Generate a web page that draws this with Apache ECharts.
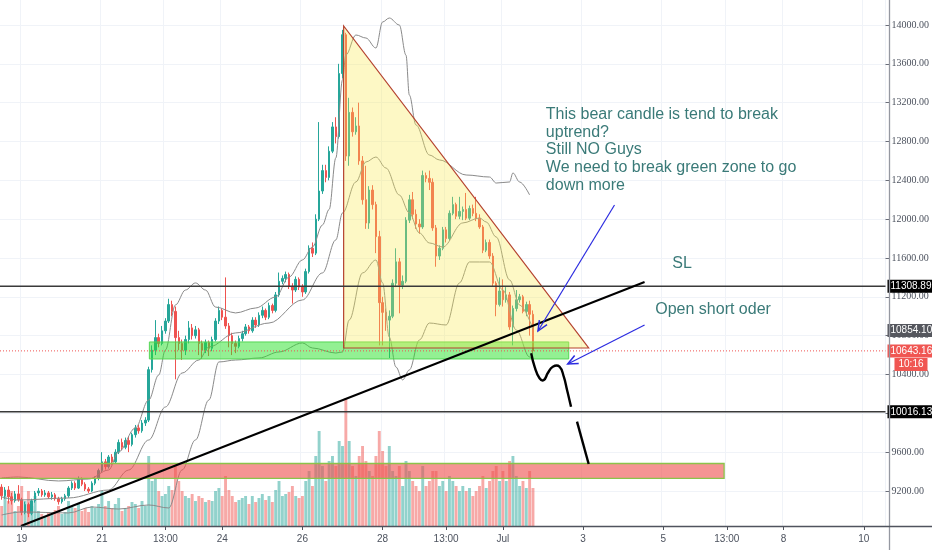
<!DOCTYPE html>
<html><head><meta charset="utf-8">
<script src="https://cdn.jsdelivr.net/npm/echarts@6/dist/echarts.min.js"></script>
<style>html,body{margin:0;padding:0;background:#fff}#c{width:932px;height:550px}</style>
</head><body><div id="c"></div>
<script>
// ---------- data ----------
const slotCount = 265; // 2h slots from Jun 18 12:00
const categories = Array.from({length: slotCount}, (_, i) => 's' + i);
const xTickIndex = [6, 30, 49, 66, 90, 114, 133, 150, 174, 198, 217, 234, 258];
const xTickText = ['19', '21', '13:00', '24', '26', '28', '13:00', 'Jul', '3', '5', '13:00', '8', '10'];
const yTickValues = [9200, 9600, 10000, 10400, 10800, 11200, 11600, 12000, 12400, 12800, 13200, 13600, 14000];
const yMin = 8839.3, yMax = 14257.5;

// [open, close, low, high]
const candles = [
[9240,9150,9110,9270],[9150,9210,9120,9240],[9210,9140,9070,9250],[9140,9100,9060,9180],[9100,9170,9080,9200],
[9170,9110,9090,9260],[9110,8980,8950,9130],[8980,9060,8960,9090],[9060,8970,8930,9080],[8970,9100,8950,9120],
[9100,9180,9080,9200],[9180,9200,9150,9230],[9200,9160,9140,9220],[9160,9180,9140,9210],[9180,9140,9120,9200],
[9140,9160,9110,9190],[9160,9120,9100,9180],[9120,9090,9060,9140],[9090,9120,9070,9140],[9120,9150,9100,9170],
[9150,9230,9130,9250],[9230,9280,9210,9300],[9280,9230,9210,9300],[9230,9320,9220,9350],[9320,9270,9250,9340],
[9270,9220,9200,9290],[9220,9200,9180,9240],[9200,9280,9190,9300],[9280,9330,9260,9350],[9330,9410,9310,9430],
[9410,9500,9390,9600],[9500,9450,9420,9530],[9450,9550,9430,9570],[9550,9500,9470,9580],[9500,9600,9480,9630],
[9600,9700,9580,9730],[9700,9650,9620,9740],[9650,9720,9630,9750],[9720,9680,9600,9760],[9680,9780,9660,9800],
[9780,9850,9750,9880],[9850,9820,9790,9880],[9820,9900,9800,9930],[9900,9930,9870,9960],[9930,10450,9910,10480],
[10450,10650,10420,10700],[10650,10780,10600,10960],[10780,10720,10680,10820],[10720,10850,10700,10900],[10850,10950,10820,10980],
[10950,11120,10930,11180],[11120,11050,11000,11160],[11050,10780,10350,11100],[10780,10720,10650,10850],[10720,10650,10550,10760],
[10650,10760,10600,10800],[10760,10880,10720,10950],[10880,10800,10760,10920],[10800,10860,10770,10900],[10860,10720,10600,10880],
[10720,10650,10560,10750],[10650,10730,10620,10760],[10730,10670,10590,10750],[10670,10760,10640,10790],[10760,10950,10740,10980],
[10950,11060,10920,11100],[11060,10990,10960,11080],[10990,10900,10870,11400],[10900,10800,10680,10930],[10800,10720,10600,10830],
[10720,10690,10620,10750],[10690,10770,10670,10800],[10770,10820,10740,10850],[10820,10890,10800,10920],[10890,10850,10820,10910],
[10850,10960,10830,10990],[10960,10910,10880,10990],[10910,11010,10890,11040],[11010,11060,10980,11100],[11060,10990,10960,11080],
[10990,11110,10970,11140],[11110,11060,11030,11130],[11060,11220,11040,11250],[11220,11360,11200,11450],[11360,11390,11330,11420],
[11390,11430,11350,11460],[11430,11310,11280,11450],[11310,11270,11130,11340],[11270,11380,11250,11410],[11380,11300,11270,11400],
[11300,11250,11200,11330],[11250,11460,11230,11490],[11460,11700,11440,11730],[11700,11650,11610,11760],[11650,12000,11630,12050],
[12000,12290,11980,13000],[12290,12500,12260,12560],[12500,12430,12380,12560],[12430,12700,12400,12750],[12700,12950,12680,13000],
[12950,12850,12780,13050],[12850,13500,12830,13600],[13500,13900,13450,13950],[13900,12650,12600,13920],[12650,13100,12550,13250],
[13100,12900,12850,13150],[12900,12960,12870,13050],[12960,12600,12560,13200],[12600,12200,12150,12650],[12200,11960,11900,12550],
[11960,12300,11900,12340],[12300,12150,12100,12350],[12150,11820,11650,12180],[11820,11140,10700,11880],[11140,11040,10700,11200],
[11040,10960,10850,11080],[10960,11000,10570,11060],[11000,11340,10980,11380],[11340,11560,11300,11700],[11560,11320,11030,11600],
[11320,11360,11280,11420],[11360,11990,11340,12020],[11990,12200,11960,12250],[12200,12050,12000,12280],[12050,11950,11900,12100],
[11950,11920,11850,12000],[11920,12450,11900,12500],[12450,12420,12380,12480],[12420,12380,12300,12500],[12380,11910,11880,12420],
[11910,11620,11510,11940],[11620,11700,11580,11730],[11700,11890,11680,11920],[11890,11800,11760,11920],[11800,12060,11780,12090],
[12060,12150,12040,12230],[12150,12030,12000,12170],[12030,12080,12000,12230],[12080,12100,11990,12130],[12100,12010,11990,12270],
[12010,12110,11990,12140],[12110,12060,12030,12150],[12060,12010,11980,12230],[12010,11920,11900,12050],[11920,11680,11650,11940],
[11680,11760,11660,11790],[11760,11620,11590,11790],[11620,11340,11310,11650],[11340,11120,11000,11360],[11120,11260,11100,11400],
[11260,11170,11100,11380],[11170,11220,11140,11300],[11220,10890,10860,11250],[10890,11080,10700,11110],[11080,11170,11050,11270],
[11170,11200,11140,11230],[11200,11050,11030,11220],[11050,11120,11000,11150],[11120,11020,10800,11160],[11020,10643.16,10620,11060]
];

const volumes = [
20,30,25,35,15,20,40,25,35,20,
30,15,12,10,14,12,16,20,12,14,
25,20,18,22,15,18,14,20,18,22,
35,20,25,18,22,28,15,18,20,24,
22,18,25,20,70,45,48,35,30,32,
40,36,60,45,35,30,28,32,25,30,
28,24,26,25,35,38,30,50,36,30,
24,26,28,30,22,30,24,28,32,26,
30,24,36,45,30,32,34,40,30,28,
30,45,55,40,70,95,60,45,65,70,
60,85,80,128,85,60,50,70,80,65,
55,50,70,95,75,60,80,55,50,60,
40,65,55,45,40,35,60,40,45,55,
55,40,45,35,50,45,40,35,40,35,
38,30,35,40,50,38,45,55,60,45,
55,45,65,70,50,40,45,38,55,38
];

// Bollinger bands, read at sample points [slot, price]
const bbUpper = [[0,9334],[5,9344],[17,9303],[26,9323],[32,9416],[35,9602],[40,9849],[44,10137],[47,10395],[49,10652],[52,11116],[55,11270],[58,11343],[61,11270],[64,11095],[70,11034],[76,11085],[82,11198],[86,11404],[90,11580],[93,11713],[96,11940],[98,12100],[100,12630],[102,13435],[103,13690],[106,13897],[109,13866],[112,13763],[114,14031],[116,14072],[119,14000],[121,13690],[122,13279],[124,12970],[128,12661],[131,12610],[139,12455],[146,12434],[148,12372],[152,12383],[153,12476],[155,12383],[158,12249]];
const bbBasis = [[0,9138],[5,9107],[20,9128],[32,9210],[38,9416],[44,9725],[49,10065],[54,10415],[59,10549],[62,10683],[70,10828],[80,10930],[90,11168],[96,11446],[100,11786],[102,12064],[106,12383],[109,12589],[112,12640],[115,12527],[119,12249],[122,12064],[125,11858],[128,11755],[132,11713],[138,11961],[143,12012],[145,11971],[148,11816],[152,11374],[155,11116],[159,10869]];
const bbLower = [[0,8953],[6,8984],[20,8974],[27,9035],[35,9014],[44,9056],[50,9025],[54,9417],[58,9726],[62,10137],[65,10529],[70,10549],[77,10570],[83,10632],[90,10725],[93,10673],[100,10621],[102,10632],[104,10961],[108,11446],[112,11580],[114,11343],[116,10786],[118,10477],[120,10344],[122,10447],[125,10755],[128,10930],[133,10910],[137,11343],[140,11559],[146,11559],[150,11270],[154,10858],[158,10580],[159,10549]];

// drawings (slot, price)
const levelLines = [11308.89, 10016.13];
const levelLabels = ['11308.89', '10016.13'];
const lastPrice = 10643.16;
const basisValue = 10854.10;
const countdownText = '10:16';
const triangle = [[102.34, 13990], [102.34, 10673], [175.67, 10673]];
const greenZone = [44.2, 169.7, 10735, 10560];
const redZone = [-1, 216.2, 9483, 9329];
const trendLine = [[5.76, 8839], [192.4, 11353]];
const arrows = [[[183.4, 12146], [160.5, 10848]], [[192.4, 10910], [169.4, 10508]]];
const forecastA = [[158.47,10618],[159.48,10480],[160.97,10361],[162.26,10343],[163.45,10415],[164.94,10480],[166.93,10480],[168.22,10377],[169.2,10240],[170.39,10068]];
const forecastB = [[172.18, 9914], [175.67, 9478]];
const noteLines = ['This bear candle is tend to break', 'uptrend?', 'Still NO Guys', 'We need to break green zone to go', 'down more'];
const noteAt = [162.85, 13170];
const slText = 'SL', slAt = [200.7, 11625];
const openText = 'Open short oder', openAt = [195.6, 11151];

// ---------- chart ----------
const tickSet = {};
xTickIndex.forEach((k, j) => tickSet[k] = xTickText[j]);
const isTick = (idx) => tickSet[idx] !== undefined;

const chart = echarts.init(document.getElementById('c'), null, {renderer: 'canvas'});
const GRID = {left: 0, right: 43, top: 0, bottom: 24};
const textColor = '#3a7a78';
const labelFont = '10px "Liberation Sans Narrow", "Liberation Sans", sans-serif';

function renderDrawings(params, api) {
  const c = p => api.coord(p);
  const ch = [];
  let a = c([redZone[0], redZone[2]]), b = c([redZone[1], redZone[3]]);
  ch.push({type: 'rect', shape: {x: a[0], y: a[1], width: b[0] - a[0], height: b[1] - a[1]},
    style: {fill: 'rgba(239,83,80,0.62)', stroke: '#8bc34a', lineWidth: 1.3}});
  a = c([greenZone[0], greenZone[2]]); b = c([greenZone[1], greenZone[3]]);
  ch.push({type: 'rect', shape: {x: a[0], y: a[1], width: b[0] - a[0], height: b[1] - a[1]},
    style: {fill: 'rgba(40,225,40,0.5)', stroke: '#55d655', lineWidth: 1}});
  ch.push({type: 'polygon', shape: {points: triangle.map(c)},
    style: {fill: 'rgba(250,234,80,0.33)', stroke: '#b5432f', lineWidth: 1.2}});
  const xl = c([-0.5, 0])[0], xr = c([slotCount - 0.5, 0])[0];
  levelLines.forEach(v => {
    const y = c([0, v])[1];
    ch.push({type: 'line', shape: {x1: xl, y1: y, x2: xr, y2: y}, style: {stroke: '#3a3a3a', lineWidth: 1.3}});
  });
  const yl = c([0, lastPrice])[1];
  ch.push({type: 'line', shape: {x1: xl, y1: yl, x2: xr, y2: yl}, style: {stroke: '#ef5350', lineWidth: 1, lineDash: [1, 2]}});
  const tp = c(trendLine[0]), tq = c(trendLine[1]);
  ch.push({type: 'line', shape: {x1: tp[0], y1: tp[1], x2: tq[0], y2: tq[1]}, style: {stroke: '#000', lineWidth: 2}});
  ch.push({type: 'polyline', shape: {points: forecastA.map(c), smooth: 0.45}, style: {stroke: '#000', lineWidth: 2.4, fill: null}});
  ch.push({type: 'polyline', shape: {points: forecastB.map(c)}, style: {stroke: '#000', lineWidth: 2.4, fill: null}});
  arrows.forEach(([s, e]) => {
    const p = c(s), q = c(e);
    const ang = Math.atan2(q[1] - p[1], q[0] - p[0]);
    const L = 11, spread = 0.42;
    const h1 = [q[0] - L * Math.cos(ang - spread), q[1] - L * Math.sin(ang - spread)];
    const h2 = [q[0] - L * Math.cos(ang + spread), q[1] - L * Math.sin(ang + spread)];
    ch.push({type: 'line', shape: {x1: p[0], y1: p[1], x2: q[0], y2: q[1]}, style: {stroke: '#2b2be0', lineWidth: 1.2}});
    ch.push({type: 'polyline', shape: {points: [h1, q, h2]}, style: {stroke: '#2b2be0', lineWidth: 1.5, fill: null}});
  });
  const font16 = '16px "Liberation Sans", Arial, sans-serif';
  let t = c(noteAt);
  ch.push({type: 'text', style: {text: noteLines.join('\n'), x: t[0], y: t[1], fill: textColor, font: font16, lineHeight: 17.7, align: 'left', verticalAlign: 'top'}});
  t = c(slAt);
  ch.push({type: 'text', style: {text: slText, x: t[0], y: t[1], fill: textColor, font: font16, verticalAlign: 'top'}});
  t = c(openAt);
  ch.push({type: 'text', style: {text: openText, x: t[0], y: t[1], fill: textColor, font: font16, verticalAlign: 'top'}});
  const bx = xr + 2;
  const box = (val, txt, bg) => {
    const y = c([0, val])[1];
    ch.push({type: 'text', style: {text: txt, x: bx, y: y, fill: '#fff', font: labelFont, backgroundColor: bg,
      padding: [2, 2, 1, 3], align: 'left', verticalAlign: 'middle'}});
  };
  levelLines.forEach((v, j) => box(v, levelLabels[j], '#000'));
  box(basisValue, basisValue.toFixed(2), '#55575e');
  box(lastPrice, lastPrice.toFixed(2), '#f05652');
  const yc = c([0, lastPrice])[1] + 13.5;
  ch.push({type: 'text', style: {text: countdownText, x: bx + 40, y: yc, fill: '#fff', font: labelFont, backgroundColor: '#f05652',
    padding: [2, 4, 1, 4], align: 'right', verticalAlign: 'middle'}});
  return {type: 'group', children: ch};
}

const option = {
  animation: false,
  backgroundColor: '#fff',
  grid: GRID,
  xAxis: [
    {type: 'category', data: categories, boundaryGap: true,
     axisLine: {show: false, onZero: false},
     axisTick: {show: true, alignWithLabel: true, interval: (i) => isTick(i), length: 4, lineStyle: {color: '#50535e'}},
     axisLabel: {interval: (i) => isTick(i), formatter: (v, i) => tickSet[i] || '', color: '#4c525e', fontSize: 10,
                 fontFamily: 'Liberation Sans', margin: 8},
     splitLine: {show: true, interval: (i) => isTick(i), lineStyle: {color: '#f0f3f8', width: 1}}},
    {type: 'value', min: -0.5, max: slotCount - 0.5, show: false, axisLine: {onZero: false}}
  ],
  yAxis: [
    {type: 'value', position: 'right', min: yMin, max: yMax, scale: true,
     axisLine: {show: false, onZero: false},
     axisTick: {show: true, customValues: yTickValues, length: 4, lineStyle: {color: '#6a6d78'}},
     axisLabel: {customValues: yTickValues, formatter: v => Number(v).toFixed(2), color: '#4c525e', fontSize: 10,
                 fontFamily: 'Liberation Sans Narrow', margin: 6},
     splitLine: {show: true, lineStyle: {color: '#f0f3f8'}}},
    {type: 'value', min: 0, max: 526, show: false, axisLine: {onZero: false}}
  ],
  graphic: [
    {type: 'line', shape: {x1: 889.5, y1: 0, x2: 889.5, y2: 550}, style: {stroke: '#9598a1', lineWidth: 1.3}, z: 100},
    {type: 'line', shape: {x1: 0, y1: 526.5, x2: 932, y2: 526.5}, style: {stroke: '#50535e', lineWidth: 1.3}, z: 100}
  ],
  series: [
    {type: 'bar', xAxisIndex: 0, yAxisIndex: 1, barWidth: 2.9, z: 1,
     data: volumes.map((v, i) => ({value: v, itemStyle: {color: candles[i][1] >= candles[i][0] ? 'rgba(38,166,154,0.5)' : 'rgba(239,83,80,0.5)'}}))},
    {type: 'candlestick', xAxisIndex: 0, yAxisIndex: 0, barWidth: 2, z: 3,
     data: candles,
     itemStyle: {color: '#26a69a', color0: '#ef5350', borderColor: '#26a69a', borderColor0: '#ef5350', borderWidth: 1}},
    {type: 'line', xAxisIndex: 1, yAxisIndex: 0, data: bbUpper, smooth: 0.35, smoothMonotone: 'x', symbol: 'none', z: 4,
     lineStyle: {color: '#8a8a8a', width: 1}},
    {type: 'line', xAxisIndex: 1, yAxisIndex: 0, data: bbBasis, smooth: 0.35, smoothMonotone: 'x', symbol: 'none', z: 4,
     lineStyle: {color: '#8a8a8a', width: 1}},
    {type: 'line', xAxisIndex: 1, yAxisIndex: 0, data: bbLower, smooth: 0.35, smoothMonotone: 'x', symbol: 'none', z: 4,
     lineStyle: {color: '#8a8a8a', width: 1}},
    {type: 'custom', xAxisIndex: 1, yAxisIndex: 0, z: 10, clip: false, data: [[0, 10000]], renderItem: renderDrawings}
  ]
};
chart.setOption(option);
</script>
</body></html>
